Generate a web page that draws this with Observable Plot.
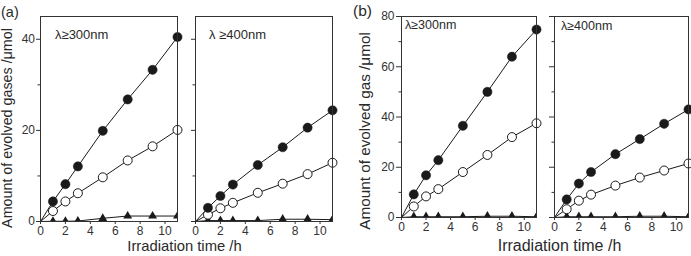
<!DOCTYPE html>
<html><head><meta charset="utf-8">
<script src="https://cdn.jsdelivr.net/npm/d3@7"></script>
<script src="https://cdn.jsdelivr.net/npm/@observablehq/plot@0.6"></script>
<style>
body{margin:0;background:#fff;}
#chart{position:relative;width:691px;height:256px;overflow:hidden;background:#fff;}
#chart svg{position:absolute;left:0;top:0;}
</style></head><body><div id="chart"></div>
<script>
// ---- data ----
const times = [0, 1, 2, 3, 5, 7, 9, 11];
const xTicks = [0, 2, 4, 6, 8, 10];
const yTicksA = [0, 20, 40];
const yMinorA = [10, 30];
const yTicksB = [0, 20, 40, 60, 80];
const yMinorB = [10, 30, 50, 70];

// (a) λ≥300nm
const aL_filled = [0, 4.4, 8.2, 12.1, 19.9, 26.8, 33.3, 40.5];
const aL_open   = [0, 2.3, 4.4, 6.2, 9.7, 13.4, 16.5, 20.1];
const aL_tri    = [0, 0.05, 0.05, 0.1, 0.7, 1.2, 1.2, 1.2];
// (a) λ≥400nm
const aR_filled = [0, 3.0, 5.6, 8.1, 12.4, 16.3, 20.6, 24.4];
const aR_open   = [0, 1.5, 2.9, 4.1, 6.3, 8.3, 10.4, 12.9];
const aR_tri    = [0, 0.2, 0.2, 0.2, 0.2, 0.5, 0.5, 0.4];
// (b) λ≥300nm
const bL_filled = [0, 9.2, 16.8, 22.8, 36.5, 50.0, 64.0, 74.8];
const bL_open   = [0, 4.4, 8.4, 11.3, 18.1, 24.9, 32.0, 37.5];
const bL_tri    = [0, 0.3, 0.3, 0.3, 0.3, 0.5, 0.5, 0.3];
// (b) λ≥400nm
const bR_filled = [0, 7.2, 13.5, 18.1, 25.2, 31.2, 37.3, 43.0];
const bR_open   = [0, 3.3, 6.7, 9.1, 12.7, 15.9, 18.7, 21.5];
const bR_tri    = [0, 0.3, 0.3, 0.3, 0.3, 0.5, 0.5, 0.3];

const panelLabels = ["(a)", "(b)"];
const conditionLabels = ["λ≥300nm", "λ ≥400nm", "λ≥300nm", "λ≥400nm"];
const yTitles = ["Amount of evolved gases /μmol", "Amount of evolved gas /μmol"];
const xTitle = "Irradiation time /h";

// ---- drawing ----
const W = 691, H = 256;
const FONT = "'Liberation Sans', Arial, sans-serif";
const ink = "#1a1a1a";
const container = document.getElementById("chart");

function panel(o) {
  const rows = vals => times.map((t, i) => ({t, v: vals[i]}));
  const F = rows(o.filled), O = rows(o.open), T = rows(o.tri);
  const marker = d => d.t > 0;
  return Plot.plot({
    width: W, height: H,
    marginLeft: o.left, marginRight: W - o.right,
    marginTop: o.top, marginBottom: H - o.bottom,
    x: {domain: [0, 11]},
    y: {domain: o.yDomain},
    style: {background: "transparent", fontFamily: FONT, fontSize: o.fontSize + "px", color: "#333", overflow: "visible"},
    marks: [
      Plot.line(T, {x: "t", y: "v", stroke: ink, strokeWidth: 1, clip: true}),
      Plot.dot(T, {filter: marker, x: "t", y: "v", symbol: "triangle", r: 3.3, fill: ink, clip: true}),
      Plot.line(O, {x: "t", y: "v", stroke: ink, strokeWidth: 1}),
      Plot.line(F, {x: "t", y: "v", stroke: ink, strokeWidth: 1}),
      Plot.dot(O, {filter: marker, x: "t", y: "v", r: 4.5, fill: "white", stroke: ink, strokeWidth: 1}),
      Plot.dot(F, {filter: marker, x: "t", y: "v", r: 4.6, fill: ink, stroke: ink, strokeWidth: 0.5}),
      Plot.axisX({ticks: xTicks, tickSize: 3, tickPadding: 2, label: null, stroke: "#333"}),
      Plot.axisY({ticks: o.yTicks, tickSize: o.tickSize, tickPadding: o.tickPadding, label: null,
                  tickFormat: o.showY ? (d => String(d)) : (() => ""), stroke: "#333"}),
      Plot.axisY({ticks: o.yMinor, tickSize: 2.5, label: null, tickFormat: () => "", stroke: "#333"}),
      Plot.frame({stroke: "#333", strokeWidth: 1})
    ]
  });
}

container.append(panel({filled: aL_filled, open: aL_open, tri: aL_tri, yDomain: [0, 45], yTicks: yTicksA, yMinor: yMinorA,
  showY: true, left: 40, right: 177, top: 16, bottom: 221, fontSize: 12, tickSize: 4, tickPadding: 1.5}));
container.append(panel({filled: aR_filled, open: aR_open, tri: aR_tri, yDomain: [0, 45], yTicks: yTicksA, yMinor: yMinorA,
  showY: false, left: 195, right: 332, top: 16, bottom: 221, fontSize: 12, tickSize: 4, tickPadding: 1.5}));
container.append(panel({filled: bL_filled, open: bL_open, tri: bL_tri, yDomain: [0, 80], yTicks: yTicksB, yMinor: yMinorB,
  showY: true, left: 401, right: 536, top: 16, bottom: 217, fontSize: 12, tickSize: 5, tickPadding: 2}));
container.append(panel({filled: bR_filled, open: bR_open, tri: bR_tri, yDomain: [0, 80], yTicks: yTicksB, yMinor: yMinorB,
  showY: false, left: 554, right: 688, top: 16, bottom: 217, fontSize: 12, tickSize: 5, tickPadding: 2}));

// overlay text
const svg = d3.select(container).append("svg")
  .attr("width", W).attr("height", H)
  .style("font-family", FONT).style("fill", "#2a2a2a");

svg.append("text").attr("x", 1).attr("y", 17).style("font-size", "14.5px").text(panelLabels[0]);
svg.append("text").attr("x", 353).attr("y", 15.5).style("font-size", "15.5px").text(panelLabels[1]);

const cond = [[55, 39, 13], [209, 39, 13], [405, 29, 12.5], [561, 30, 12.5]];
cond.forEach(([x, y, fs], i) =>
  svg.append("text").attr("x", x).attr("y", y).style("font-size", fs + "px").text(conditionLabels[i]));

svg.append("text").attr("transform", "translate(12,128) rotate(-90)").attr("text-anchor", "middle")
  .style("font-size", "14.3px").text(yTitles[0]);
svg.append("text").attr("transform", "translate(370,131) rotate(-90)").attr("text-anchor", "middle")
  .style("font-size", "15.3px").text(yTitles[1]);

svg.append("text").attr("x", 184.5).attr("y", 251).attr("text-anchor", "middle")
  .style("font-size", "14.8px").text(xTitle);
svg.append("text").attr("x", 559.5).attr("y", 251).attr("text-anchor", "middle")
  .style("font-size", "16px").text(xTitle);
</script>
</body></html>
